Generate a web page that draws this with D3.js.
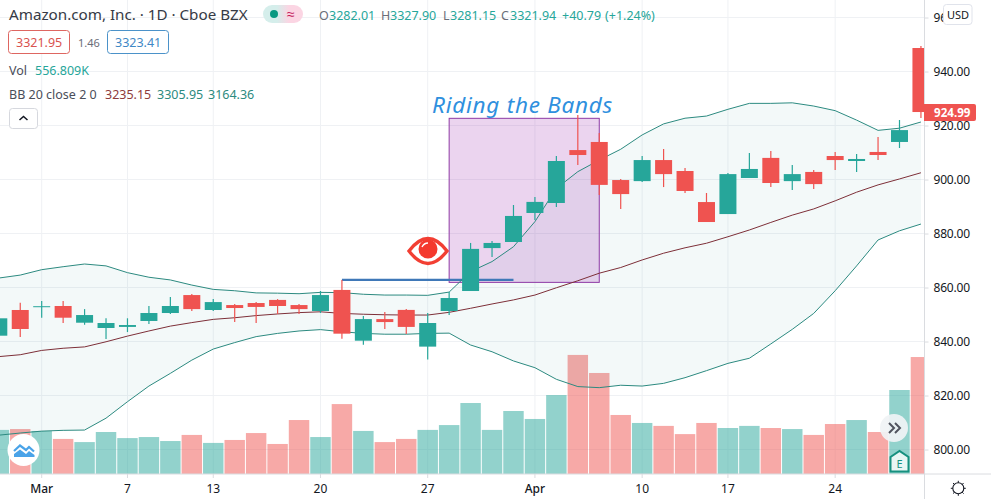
<!DOCTYPE html>
<html>
<head>
<meta charset="utf-8">
<style>
  html, body { margin: 0; padding: 0; background: #fff; overflow: hidden; }
  svg { display: block; }
  text { font-family: "Noto Sans", sans-serif; }
</style>
<script src="https://cdn.jsdelivr.net/npm/d3@7"></script>
</head>
<body>
<div id="chart"></div>
<script>
/* Candlestick chart with Bollinger Bands and volume */

const days = ["02-27","02-28","03-01","03-02","03-03","03-06","03-07","03-08","03-09","03-10","03-13","03-14","03-15","03-16","03-17","03-20","03-21","03-22","03-23","03-24","03-27","03-28","03-29","03-30","03-31","04-03","04-04","04-05","04-06","04-07","04-10","04-11","04-12","04-13","04-17","04-18","04-19","04-20","04-21","04-24","04-25","04-26","04-27","04-28"];

const opens = [842.15,851.67,852.70,853.15,846.96,845.0,845.4,847.6,850.55,857.2,851.67,853.5,854.25,855.4,853.5,851.3,859.1,840.3,848.3,851.7,838.1,851.3,858.7,874.6,876.85,887.6,891.3,910.9,913.9,899.8,899.4,907.2,903.15,891.65,887.2,900.55,908.0,899.4,902.8,908.7,906.85,910.2,913.9,948.7];
const closes = [848.59,844.63,853.07,848.81,849.8,846.85,846.1,850.55,853.15,852.0,854.6,852.4,852.8,853.15,852.0,857.2,842.9,848.3,847.2,845.4,846.85,856.1,874.3,876.5,886.5,891.7,906.85,909.07,898.0,894.6,907.2,902.0,895.75,884.25,902.0,903.9,898.7,902.0,898.3,907.2,907.6,909.07,918.3,924.99];
const highs = [850.2,854.37,855.0,855.0,852.0,848.6,848.6,853.15,856.5,857.6,855.7,853.9,854.6,855.7,853.9,858.7,862.8,849.4,850.9,852.0,850.55,858.3,876.5,877.2,890.55,893.5,908.7,923.9,917.2,900.2,908.7,911.3,904.25,895.0,902.4,909.8,910.55,905.4,903.5,910.2,909.4,915.7,922.0,949.4];
const lows = [840.9,841.66,848.8,846.85,846.2,840.9,843.5,846.5,850.2,851.3,851.3,847.2,846.85,850.2,850.2,850.55,841.0,838.8,844.6,842.8,833.3,849.8,858.7,871.3,876.85,885.0,889.8,905.4,894.25,889.1,899.07,897.2,895.0,884.25,887.2,900.55,897.2,896.1,896.5,903.5,902.8,907.2,911.65,922.8];
const volumes = [210,214,205,167,152,200,171,176,157,186,148,162,195,143,257,176,333,205,152,167,210,233,338,210,300,262,376,567,481,281,243,229,190,243,219,229,219,214,186,238,257,200,400,557];

const bbUpper = [863.5,864.6,866.6,867.7,868.7,868.0,865.5,863.8,862.8,860.9,859.3,858.8,858.0,857.9,857.7,858.2,858.1,857.5,857.2,857.2,857.1,858.3,865.9,869.6,875.1,884.4,896.7,902.9,907.2,911.2,916.5,920.6,922.7,923.5,926.0,928.2,928.2,928.4,927.2,925.5,922.0,918.2,919.0,921.3];
const bbMiddle = [834.4,835.1,836.7,837.5,838.0,839.9,842.0,843.9,845.7,847.0,848.2,848.8,849.6,850.2,850.7,851.0,850.4,850.1,849.9,849.8,849.8,850.8,852.3,853.9,855.4,857.2,859.9,862.5,865.3,867.4,870.2,872.7,874.7,876.4,878.8,881.3,884.1,886.8,889.1,892.1,895.3,898.0,900.2,902.5];
const bbLower = [805.3,806.1,806.8,807.1,807.2,811.6,817.7,823.5,828.2,833.1,837.2,839.6,841.8,843.0,843.9,844.4,843.6,843.0,842.7,842.7,843.0,843.1,838.7,836.2,832.8,830.3,826.0,823.3,822.9,823.8,823.5,824.5,826.6,829.2,831.9,833.8,839.1,844.5,850.4,858.8,868.0,877.6,881.0,883.5];

const priceTicks = [800,820,840,860,880,900,920,940,960];
const timeTicks = ["03-01","03-07","03-13","03-20","03-27","04-03","04-10","04-17","04-24"];
const timeLabels = ["Mar","7","13","20","27","Apr","10","17","24"];
const lastPrice = 924.99;

const width = 991, height = 499;
const plotRight = 924.5, volBase = 474;
const up = "#26a69a", down = "#ef5350", gridColor = "#eff1f4", borderColor = "#dadce0";

let svg = d3.select("#chart").append("svg")
    .attr("width", width)
    .attr("height", height)
    .attr("viewBox", [0, 0, width, height]);

let x = d3.scaleBand().domain(days).range([-11.92, 931.66]);
let cx = d => x(d) + x.bandwidth() / 2;

let y = d3.scaleLinear().domain([800, 940]).range([449.5, 71.5]);
let yVol = d3.scaleLinear().domain([0, 600]).range([volBase, volBase - 126]);

let defs = svg.append("defs");
defs.append("clipPath").attr("id", "plot")
    .append("rect").attr("width", plotRight).attr("height", volBase);
let pillGrad = defs.append("linearGradient").attr("id", "pill");
pillGrad.append("stop").attr("offset", "35%").attr("stop-color", "#d5eeeb");
pillGrad.append("stop").attr("offset", "65%").attr("stop-color", "#fbd5e3");

// grid comes from the same tick lists as the axes
svg.append("g").selectAll("line").data(priceTicks).join("line")
    .attr("x1", 0).attr("x2", plotRight)
    .attr("y1", d => y(d)).attr("y2", d => y(d))
    .attr("stroke", gridColor);
svg.append("g").selectAll("line").data(timeTicks).join("line")
    .attr("x1", cx).attr("x2", cx)
    .attr("y1", 0).attr("y2", volBase)
    .attr("stroke", gridColor);

let plot = svg.append("g").attr("clip-path", "url(#plot)");

// volume
plot.append("g").selectAll("rect").data(days).join("rect")
    .attr("x", d => x(d) + 0.5)
    .attr("width", x.bandwidth() - 1)
    .attr("y", (d, i) => yVol(volumes[i]))
    .attr("height", (d, i) => volBase - yVol(volumes[i]))
    .attr("fill", (d, i) => closes[i] >= opens[i] ? up : down)
    .attr("fill-opacity", 0.5);

// band fill
plot.append("path")
    .attr("d", d3.area().x(d => cx(d)).y0((d, i) => y(bbLower[i])).y1((d, i) => y(bbUpper[i]))(days))
    .attr("fill", "#1f8a8a")
    .attr("fill-opacity", 0.055);

// the box
plot.append("rect")
    .attr("x", cx(days[21]))
    .attr("width", cx(days[28]) - cx(days[21]))
    .attr("y", y(922.66))
    .attr("height", y(861.9) - y(922.66))
    .attr("fill", "#9c27b0")
    .attr("fill-opacity", 0.2)
    .attr("stroke", "#8e3aa5")
    .attr("stroke-width", 1);

// blue level line, sits behind the candles
plot.append("line")
    .attr("x1", cx(days[16])).attr("x2", cx(days[24]))
    .attr("y1", y(862.8)).attr("y2", y(862.8))
    .attr("stroke", "#3f78b8")
    .attr("stroke-width", 2.2);

// band lines
let bandLine = values => d3.line().x(d => cx(d)).y((d, i) => y(values[i]))(days);
[[bbUpper, "#2c8a80"], [bbLower, "#2c8a80"], [bbMiddle, "#7d2f38"]].forEach(([values, color]) => {
    plot.append("path")
        .attr("d", bandLine(values))
        .attr("fill", "none")
        .attr("stroke", color)
        .attr("stroke-width", 1);
});

// candles
let candle = plot.append("g").selectAll("g").data(days).join("g");
candle.append("line")
    .attr("x1", cx).attr("x2", cx)
    .attr("y1", (d, i) => y(highs[i]))
    .attr("y2", (d, i) => y(lows[i]))
    .attr("stroke", (d, i) => closes[i] >= opens[i] ? up : down)
    .attr("stroke-width", 1.2);
candle.append("rect")
    .attr("x", d => cx(d) - 8.5)
    .attr("width", 17)
    .attr("y", (d, i) => y(Math.max(opens[i], closes[i])))
    .attr("height", (d, i) => Math.max(1, Math.abs(y(opens[i]) - y(closes[i]))))
    .attr("fill", (d, i) => closes[i] >= opens[i] ? up : down);

svg.append("text")
    .text("Riding the Bands")
    .attr("x", 432).attr("y", 112.5)
    .attr("font-size", 22.5)
    .attr("letter-spacing", 0.75)
    .attr("font-style", "italic")
    .attr("fill", "#2f90de");

// eye
let eye = svg.append("g").attr("transform", "translate(428,251)");
eye.append("path")
    .attr("d", "M-19,0 Q0,-25 19,0 Q0,25 -19,0 Z")
    .attr("fill", "#fff").attr("stroke", "#f23f33").attr("stroke-width", 3.4);
eye.append("circle").attr("cy", -2).attr("r", 9.5).attr("fill", "#f4392d");
eye.append("path")
    .attr("d", "M-6,-4 Q-4,-8 0,-8")
    .attr("fill", "none").attr("stroke", "#fff").attr("stroke-width", 1.4);

// axes
svg.append("rect").attr("x", plotRight).attr("width", width - plotRight).attr("height", height).attr("fill", "#fff");
svg.append("rect").attr("y", volBase).attr("width", width).attr("height", height - volBase).attr("fill", "#fff");

let yAxis = svg.append("g")
    .attr("transform", `translate(${plotRight},0)`)
    .call(d3.axisRight(y).tickValues(priceTicks).tickFormat(d3.format(".2f")).tickSize(4).tickPadding(5));
yAxis.select(".domain").attr("stroke", borderColor).attr("d", "M0,0V499");
yAxis.selectAll("line").attr("stroke", borderColor);
yAxis.selectAll("text").attr("font-size", 12).attr("letter-spacing", -0.2).attr("fill", "#131722").style("font-family", '"Noto Sans"');

let xAxis = svg.append("g")
    .attr("transform", `translate(0,${volBase})`)
    .call(d3.axisBottom(x).tickValues(timeTicks).tickFormat((d, i) => timeLabels[i]).tickSize(4).tickPadding(6));
xAxis.select(".domain").attr("stroke", borderColor).attr("d", "M0,0H991");
xAxis.selectAll("line").attr("stroke", borderColor);
xAxis.selectAll("text").attr("font-size", 12).attr("fill", "#131722").style("font-family", '"Noto Sans"')
    .attr("font-weight", (d, i) => /[A-Z]/.test(timeLabels[i]) ? 500 : 400);

// last price tag
svg.append("path")
    .attr("d", "M924,104 H974 a2,2 0 0 1 2,2 V119 a2,2 0 0 1 -2,2 H924 Z")
    .attr("fill", down);
svg.append("text").text(d3.format(".2f")(lastPrice))
    .attr("x", 934).attr("y", 117)
    .attr("font-size", 11.6).attr("font-weight", 700).attr("fill", "#fff");

// USD button
svg.append("rect").attr("x", 943.5).attr("y", 4.5).attr("width", 28.5).attr("height", 20).attr("rx", 3)
    .attr("fill", "#fff").attr("stroke", "#e0e3eb");
svg.append("text").text("USD").attr("x", 958).attr("y", 18.5).attr("text-anchor", "middle")
    .attr("font-size", 11).attr("fill", "#131722");

// legend
let label = (str, px, py, color, size = 12.5) => svg.append("text")
    .text(str).attr("x", px).attr("y", py).attr("fill", color).attr("font-size", size);

label("Amazon.com, Inc. · 1D · Cboe BZX", 9, 20, "#363a45", 15.2);
svg.append("rect").attr("x", 263).attr("y", 5).attr("width", 40).attr("height", 18).attr("rx", 9).attr("fill", "url(#pill)");
svg.append("circle").attr("cx", 274).attr("cy", 14).attr("r", 4).attr("fill", "#089981");
label("≈", 287, 19, "#c2185b", 14);

[["O", 319, "#6a6d78"], ["3282.01", 329, up], ["H", 381, "#6a6d78"], ["3327.90", 390, up], ["L", 443, "#6a6d78"], ["3281.15", 450, up], ["C", 501, "#6a6d78"], ["3321.94", 510, up], ["+40.79", 562, up], ["(+1.24%)", 605, up]]
    .forEach(([s, px, c]) => label(s, px, 20, c));

svg.append("rect").attr("x", 8.5).attr("y", 30.5).attr("width", 61).attr("height", 23).attr("rx", 3)
    .attr("fill", "#fff").attr("stroke", "#de6661");
label("3321.95", 16, 47, "#d9534f");
label("1.46", 78, 47, "#6a6d78", 11);
svg.append("rect").attr("x", 107.5).attr("y", 30.5).attr("width", 61).attr("height", 23).attr("rx", 3)
    .attr("fill", "#fff").attr("stroke", "#4b92c9");
label("3323.41", 115, 47, "#3f88c5");

label("Vol", 9, 75, "#4a4e59");
label("556.809K", 35, 75, up);
label("BB 20 close 2 0", 9, 99, "#4a4e59");
label("3235.15", 105, 99, "#8e3b3b");
label("3305.95", 157, 99, "#2c8a80");
label("3164.36", 208, 99, "#2c8a80");

svg.append("rect").attr("x", 9.5).attr("y", 108.5).attr("width", 28).attr("height", 20).attr("rx", 3)
    .attr("fill", "#fff").attr("stroke", "#d6d8de");
svg.append("path").attr("d", "M19.5,120 L23.5,116.5 L27.5,120").attr("fill", "none").attr("stroke", "#131722").attr("stroke-width", 1.5);

// logo
svg.append("circle").attr("cx", 23.5).attr("cy", 450).attr("r", 16).attr("fill", "#fff");
svg.append("path")
    .attr("d", "M14,451 L20,445.5 L26,450 L29,447 L34,451.5")
    .attr("fill", "none").attr("stroke", "#4aa3e8").attr("stroke-width", 2.2);
svg.append("path")
    .attr("d", "M14,457 V454 L20,449.5 L26,454 L29,451 L34.5,455 V457 Z")
    .attr("fill", "#4aa3e8");

// scroll button
svg.append("circle").attr("cx", 894).attr("cy", 428).attr("r", 14).attr("fill", "#f0f3f5").attr("fill-opacity", 0.93);
svg.append("path").attr("d", "M889,423 L894,428 L889,433 M895,423 L900,428 L895,433")
    .attr("fill", "none").attr("stroke", "#50535e").attr("stroke-width", 2);

// earnings marker
svg.append("path")
    .attr("d", "M890.5,457 L899.5,451 L908.5,457 V471.5 H890.5 Z")
    .attr("fill", "#e9f6f4").attr("stroke", "#16907f").attr("stroke-width", 2);
svg.append("text").text("E").attr("x", 899.5).attr("y", 468).attr("text-anchor", "middle")
    .attr("font-size", 11).attr("fill", "#16907f");

// settings icon
let gear = svg.append("g").attr("transform", "translate(958.3,488.3)");
gear.append("circle").attr("r", 5.5).attr("fill", "none").attr("stroke", "#131722").attr("stroke-width", 1.1);
gear.selectAll("line").data(d3.range(8)).join("line")
    .attr("x1", d => 5.5 * Math.cos(d * Math.PI / 4))
    .attr("y1", d => 5.5 * Math.sin(d * Math.PI / 4))
    .attr("x2", d => 7.5 * Math.cos(d * Math.PI / 4))
    .attr("y2", d => 7.5 * Math.sin(d * Math.PI / 4))
    .attr("stroke", "#131722");
</script>
</body>
</html>
